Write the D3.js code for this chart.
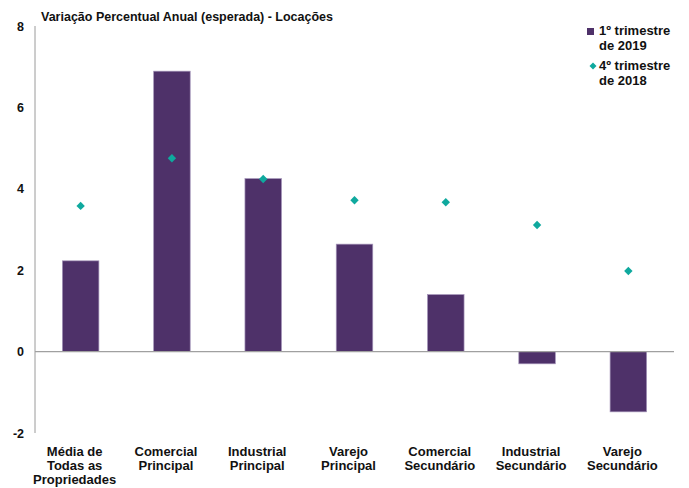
<!DOCTYPE html>
<html>
<head>
<meta charset="utf-8">
<script src="https://cdn.jsdelivr.net/npm/d3@7"></script>
<style>
  html, body { margin: 0; padding: 0; background: #fff; }
  svg { display: block; font-family: "Liberation Sans", Arial, sans-serif; font-weight: bold; }
</style>
</head>
<body>
<svg id="chart" width="689" height="488"></svg>
<script>
// Categories (multi-line labels)
const categories = [
  ["Média de", "Todas as", "Propriedades"],
  ["Comercial", "Principal"],
  ["Industrial", "Principal"],
  ["Varejo", "Principal"],
  ["Comercial", "Secundário"],
  ["Industrial", "Secundário"],
  ["Varejo", "Secundário"]
];
// 1º trimestre de 2019 (bars)
const q1_2019 = [2.23, 6.89, 4.25, 2.64, 1.40, -0.30, -1.48];
// 4º trimestre de 2018 (diamonds)
const q4_2018 = [3.58, 4.75, 4.24, 3.72, 3.67, 3.11, 1.98];
const yTicks = [-2, 0, 2, 4, 6, 8];
const title = "Variação Percentual Anual (esperada) - Locações";
const legendItems = [
  { lines: ["1º trimestre", "de 2019"], type: "bar" },
  { lines: ["4º trimestre", "de 2018"], type: "diamond" }
];

const barColor = "#4e3169";
const diamondColor = "#0fa99e";

const svg = d3.select("#chart");
const keys = categories.map((c, i) => i);

const x = d3.scaleBand().domain(keys).range([35, 674]).paddingInner(0.6).paddingOuter(0.3);
const y = d3.scaleLinear().domain([-2, 8]).range([433, 26]);

// Square diamond marker (rotated square)
const diamondPath = r => `M0,${-r}L${r},0L0,${r}L${-r},0Z`;

// Title
svg.append("text").attr("x", 41).attr("y", 21).attr("font-size", 12.5).attr("fill", "#111").text(title);

// Y axis line and tick labels
svg.append("line").attr("x1", 35).attr("x2", 35).attr("y1", y(8)).attr("y2", y(-2))
  .attr("stroke", "#9a9a9a").attr("stroke-width", 1);
svg.selectAll("text.ytick").data(yTicks).join("text")
  .attr("class", "ytick")
  .attr("x", 24).attr("y", d => y(d) + 4.5)
  .attr("text-anchor", "end").attr("font-size", 12.5).attr("fill", "#111")
  .text(d => d);

// Bars
svg.selectAll("rect.bar").data(q1_2019).join("rect")
  .attr("class", "bar")
  .attr("x", (d, i) => x(i))
  .attr("width", x.bandwidth())
  .attr("y", d => y(Math.max(0, d)))
  .attr("height", d => Math.abs(y(d) - y(0)))
  .attr("fill", barColor)
  .attr("stroke", "#a393b8").attr("stroke-width", 0.7);

// Zero line
svg.append("line").attr("x1", 35).attr("x2", 674).attr("y1", y(0)).attr("y2", y(0))
  .attr("stroke", "#a0a0a0").attr("stroke-width", 1.2);

// Diamonds
svg.selectAll("path.pt").data(q4_2018).join("path")
  .attr("class", "pt")
  .attr("d", diamondPath(4.2))
  .attr("transform", (d, i) => `translate(${x(i) + x.bandwidth() / 2},${y(d)})`)
  .attr("fill", diamondColor);

// X category labels, set slightly left of each band centre
const labelShift = -6;
const xl = svg.selectAll("g.xlab").data(categories).join("g")
  .attr("class", "xlab")
  .attr("transform", (d, i) => `translate(${x(i) + x.bandwidth() / 2 + labelShift},456)`);
xl.selectAll("text").data(d => d).join("text")
  .attr("x", 0).attr("y", (d, j) => j * 14)
  .attr("text-anchor", "middle").attr("font-size", 13).attr("fill", "#111")
  .text(d => d);

// Legend
const lg = svg.append("g").attr("transform", "translate(587,0)");
legendItems.forEach((it, k) => {
  const top = 35 + k * 35;
  if (it.type === "bar") {
    lg.append("rect").attr("x", 0).attr("y", top - 7).attr("width", 7).attr("height", 7).attr("fill", barColor);
  } else {
    lg.append("path").attr("d", diamondPath(3.5))
      .attr("transform", `translate(6,${top - 4})`).attr("fill", diamondColor);
  }
  it.lines.forEach((ln, j) => {
    lg.append("text").attr("x", 12).attr("y", top + j * 15).attr("font-size", 13).attr("fill", "#111").text(ln);
  });
});
</script>
</body>
</html>
